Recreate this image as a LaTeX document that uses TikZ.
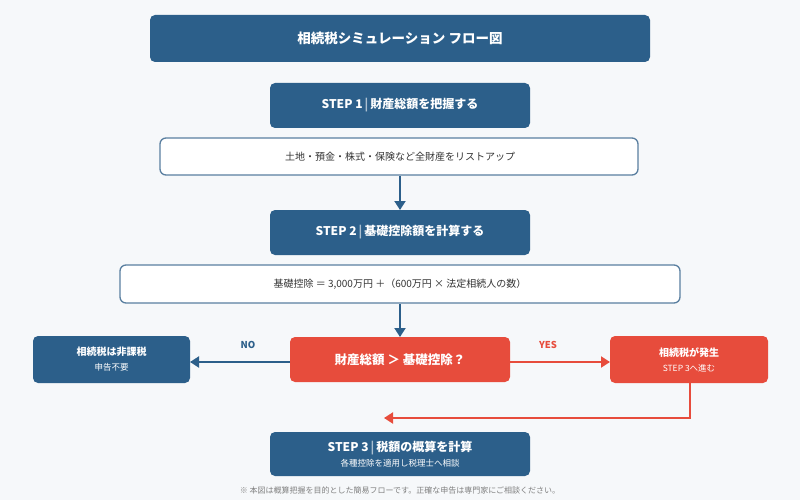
\documentclass[tikz,border=0pt]{standalone}
\usepackage{fontspec}
\setmainfont{Noto Sans CJK JP}
\usetikzlibrary{arrows.meta}
\definecolor{nav}{HTML}{2C5F8A}
\definecolor{rd}{HTML}{E74C3C}
\definecolor{bg}{HTML}{F6F8FA}
\definecolor{tx}{HTML}{333333}
\definecolor{bd}{HTML}{5A7FA0}
\tikzset{
 blk/.style={fill=nav,rounded corners=5pt,text=white,font=\bfseries\fontsize{12}{14}\selectfont},
 wht/.style={fill=white,draw=bd,line width=1.3pt,rounded corners=6pt,text=tx,font=\fontsize{10}{12}\selectfont},
 red/.style={fill=rd,rounded corners=5pt,text=white},
 arr/.style={line width=2pt,-{Triangle[length=9pt,width=11pt]}},
}
\begin{document}
\begin{tikzpicture}[x=1pt,y=-1pt]
\fill[bg] (0,0) rectangle (800,500);
\useasboundingbox (0,0) rectangle (800,500);
\fill[blk] (150,15) rectangle (650,62);
\node[text=white,font=\bfseries\fontsize{13.5}{16}\selectfont] (title) at (400,38.5) {相続税シミュレーション フロー図};
\fill[blk] (270,83) rectangle (530,128);
\node[blk,fill=none] (s1) at (400,105.5) {STEP 1{\color{white!60!nav}\,|\,}財産総額を把握する};
\draw[wht] (160,138) rectangle (638,175);
\node[wht,draw=none,fill=none] (l) at (400,156.5) {土地・預金・株式・保険など全財産をリストアップ};
\coordinate (a1) at (400,176); \coordinate (a1e) at (400,210);
\draw[arr,nav] (a1) -- (a1e);
\fill[blk] (270,210) rectangle (530,255);
\node[blk,fill=none] (s2) at (400,232.5) {STEP 2{\color{white!60!nav}\,|\,}基礎控除額を計算する};
\draw[wht] (120,265) rectangle (680,303);
\node[wht,draw=none,fill=none] (f) at (400,284) {基礎控除 ＝ 3,000万円 ＋（600万円 × 法定相続人の数）};
\coordinate (a2) at (400,304); \coordinate (a2e) at (400,337);
\draw[arr,nav] (a2) -- (a2e);
\fill[red] (290,337) rectangle (510,382);
\node[text=white,font=\bfseries\fontsize{12.5}{14}\selectfont] (d) at (400,359.5) {財産総額 ＞ 基礎控除？};
\fill[blk] (33,336) rectangle (190,383);
\node[text=white,align=center,font=\fontsize{8.5}{15}\selectfont] (no) at (111.5,359.5) {{\bfseries\fontsize{10}{12}\selectfont 相続税は非課税}\\申告不要};
\fill[red] (610,336) rectangle (768,383);
\node[text=white,align=center,font=\fontsize{8.5}{15}\selectfont] (yes) at (689,359.5) {{\bfseries\fontsize{10}{12}\selectfont 相続税が発生}\\STEP 3へ進む};
\coordinate (dl) at (290,362); \coordinate (nr) at (190,362);
\coordinate (dr) at (510,362); \coordinate (yl) at (610,362);
\draw[arr,nav] (dl) -- (nr);
\draw[arr,rd] (dr) -- (yl);
\node[text=nav,font=\bfseries\fontsize{9.5}{11}\selectfont] (nol) at (248,345) {NO};
\node[text=rd,font=\bfseries\fontsize{9.5}{11}\selectfont] (yesl) at (548,345) {YES};
\coordinate (yb) at (690,383); \coordinate (yc) at (690,418); \coordinate (ye) at (384,418);
\draw[arr,rd] (yb) -- (yc) -- (ye);
\fill[blk] (270,432) rectangle (530,476);
\node[text=white,align=center,font=\fontsize{8.5}{15}\selectfont] (s3) at (400,454) {{\bfseries\fontsize{12}{14}\selectfont STEP 3{\color{white!60!nav}\,|\,}税額の概算を計算}\\各種控除を適用し税理士へ相談};
\node[text=gray,font=\fontsize{8}{10}\selectfont] (fn) at (400,490) {※ 本図は概算把握を目的とした簡易フローです。正確な申告は専門家にご相談ください。};
\end{tikzpicture}
\end{document}
